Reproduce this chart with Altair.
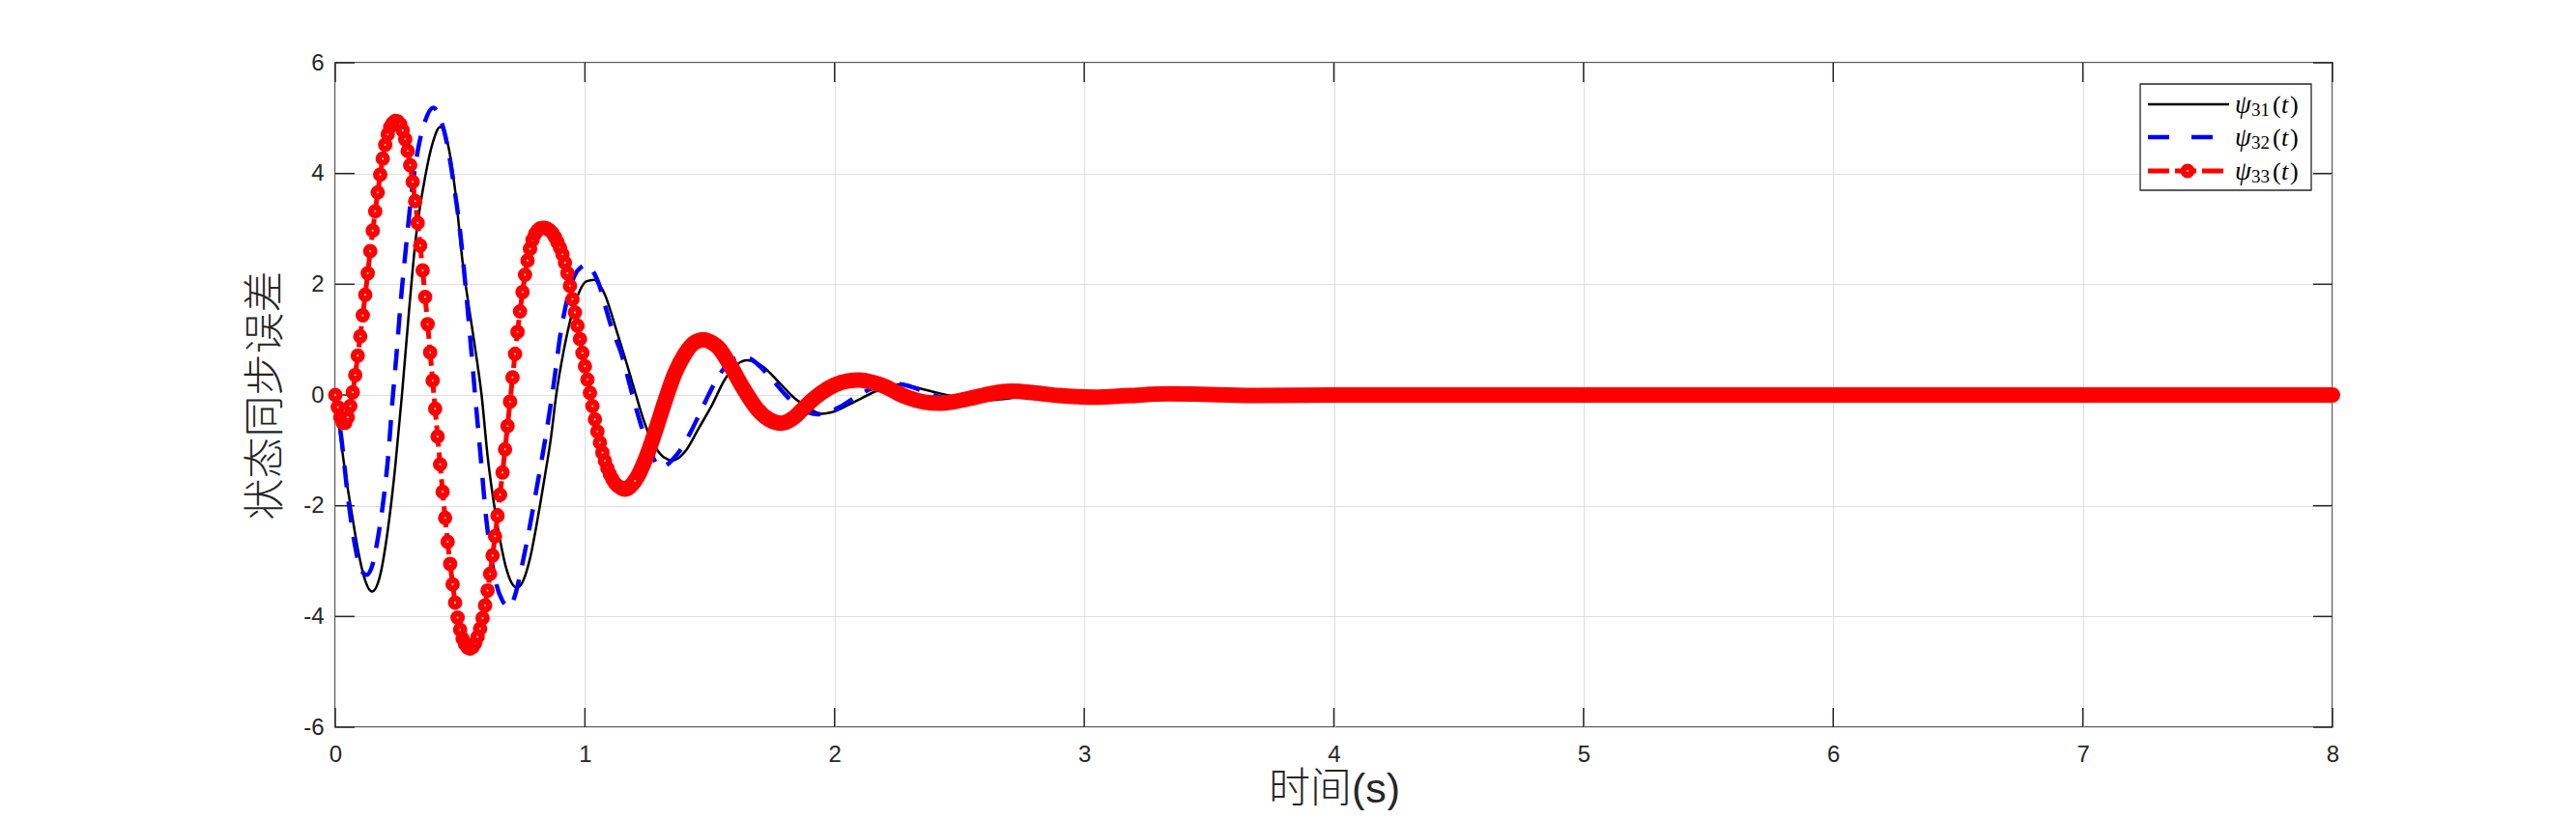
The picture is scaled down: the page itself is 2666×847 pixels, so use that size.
import altair as alt
import pandas as pd

# psi_33: solver samples every 0.01 s (markers)
red_v = [
    0.00, -0.22, -0.40, -0.50, -0.50, -0.40, -0.20, 0.05, 0.36, 0.71,
    1.06, 1.44, 1.81, 2.20, 2.60, 2.97, 3.32, 3.66, 3.98, 4.27,
    4.52, 4.71, 4.84, 4.91, 4.95, 4.94, 4.89, 4.78, 4.62, 4.41,
    4.15, 3.85, 3.50, 3.11, 2.70, 2.25, 1.77, 1.28, 0.77, 0.26,
    -0.25, -0.75, -1.25, -1.75, -2.22, -2.65, -3.05, -3.42, -3.75, -4.02,
    -4.24, -4.40, -4.50, -4.56, -4.58, -4.55, -4.48, -4.37, -4.22, -4.03,
    -3.80, -3.53, -3.23, -2.90, -2.55, -2.18, -1.80, -1.40, -0.98, -0.56,
    -0.12, 0.32, 0.74, 1.14, 1.51, 1.86, 2.17, 2.43, 2.64, 2.80,
    2.91, 2.97, 3.01, 3.02, 3.02, 3.00, 2.97, 2.92, 2.85, 2.76,
    2.66, 2.54, 2.39, 2.20, 1.97, 1.73, 1.49, 1.25, 1.01, 0.76,
    0.52, 0.28, 0.04, -0.20, -0.44, -0.66, -0.86, -1.04, -1.19, -1.32,
    -1.43, -1.52, -1.59, -1.64, -1.67, -1.69, -1.70, -1.69, -1.66, -1.61,
    -1.55,
]
red_t = [round(i * 0.01, 2) for i in range(len(red_v))]

# psi_33 after ~1.15 s: markers merge into one solid band
red_tail_t = [
    1.15, 1.162, 1.19, 1.21, 1.25, 1.29, 1.325, 1.36, 1.40, 1.44,
    1.476, 1.51, 1.534, 1.585, 1.637, 1.689, 1.74, 1.785, 1.83, 1.869,
    1.908, 1.947, 2.00, 2.05, 2.10, 2.15, 2.204, 2.25, 2.295, 2.36,
    2.42, 2.49, 2.553, 2.63, 2.71, 2.80, 2.90, 3.04, 3.18, 3.34,
    3.50, 3.70, 4.0, 5.0, 6.0, 7.0, 8.0,
]
red_tail_v = [
    -1.69, -1.70, -1.61, -1.48, -1.07, -0.54, -0.05, 0.39, 0.74, 0.95,
    1.00, 0.94, 0.86, 0.51, 0.10, -0.25, -0.45, -0.51, -0.43, -0.27,
    -0.10, 0.04, 0.18, 0.25, 0.27, 0.23, 0.15, 0.04, -0.05, -0.13,
    -0.15, -0.11, -0.05, 0.03, 0.07, 0.04, -0.01, -0.04, -0.01, 0.02,
    0.01, -0.01, 0.0, 0.0, 0.0, 0.0, 0.0,
]

black_t = [
    0.0, 0.018, 0.04, 0.063, 0.089, 0.115, 0.147, 0.18, 0.21, 0.24,
    0.267, 0.295, 0.321, 0.36, 0.39, 0.42, 0.45, 0.48, 0.51, 0.54,
    0.565, 0.586, 0.61, 0.635, 0.66, 0.686, 0.71, 0.728, 0.75, 0.78,
    0.81, 0.84, 0.863, 0.885, 0.915, 0.947, 0.979, 1.005, 1.037, 1.06,
    1.082, 1.12, 1.16, 1.198, 1.237, 1.276, 1.315, 1.351, 1.38, 1.405,
    1.456, 1.508, 1.559, 1.611, 1.65, 1.68, 1.714, 1.779, 1.843, 1.882,
    1.947, 1.99, 2.063, 2.166, 2.21, 2.256, 2.30, 2.385, 2.46, 2.53,
    2.60, 2.66, 2.72, 2.80, 2.90, 3.0, 3.2, 3.5, 4.0, 5.0,
    6.0, 7.0, 8.0,
]
black_v = [
    0.0, -0.66, -1.40, -2.05, -2.75, -3.28, -3.55, -3.25, -2.45, -1.30,
    0.00, 1.50, 2.77, 3.94, 4.55, 4.84, 4.55, 3.70, 2.40, 1.45,
    0.70, 0.00, -1.10, -1.95, -2.62, -3.15, -3.42, -3.48, -3.38, -2.95,
    -2.25, -1.45, -0.80, 0.00, 0.80, 1.45, 1.88, 2.05, 2.08, 1.98,
    1.79, 1.26, 0.68, 0.10, -0.48, -0.89, -1.12, -1.18, -1.12, -1.00,
    -0.60, -0.19, 0.27, 0.56, 0.63, 0.60, 0.51, 0.22, -0.07, -0.19,
    -0.34, -0.31, -0.16, 0.07, 0.15, 0.19, 0.16, 0.07, -0.01, -0.07,
    -0.10, -0.08, -0.05, -0.01, 0.02, 0.02, 0.01, 0.0, 0.0, 0.0,
    0.0, 0.0, 0.0,
]

blue_t = [
    0.0, 0.025, 0.05, 0.075, 0.10, 0.125, 0.15, 0.17, 0.19, 0.21,
    0.231, 0.245, 0.263, 0.283, 0.302, 0.33, 0.36, 0.392, 0.42, 0.447,
    0.473, 0.50, 0.52, 0.54, 0.56, 0.58, 0.605, 0.625, 0.645, 0.67,
    0.695, 0.72, 0.747, 0.773, 0.80, 0.825, 0.85, 0.875, 0.902, 0.93,
    0.96, 0.985, 1.005, 1.03, 1.06, 1.085, 1.108, 1.147, 1.17, 1.198,
    1.225, 1.25, 1.275, 1.30, 1.325, 1.35, 1.378, 1.42, 1.456, 1.495,
    1.534, 1.57, 1.60, 1.63, 1.66, 1.70, 1.75, 1.80, 1.85, 1.89,
    1.93, 1.97, 2.02, 2.08, 2.14, 2.19, 2.24, 2.29, 2.35, 2.41,
    2.48, 2.55, 2.63, 2.72, 2.85, 3.0, 3.3, 4.0, 5.0, 6.0,
    7.0, 8.0,
]
blue_v = [
    0.0, -0.80, -1.82, -2.62, -3.12, -3.25, -3.05, -2.60, -2.00, -1.20,
    0.00, 0.72, 1.73, 2.66, 3.50, 4.40, 4.95, 5.19, 5.00, 4.55,
    3.85, 2.95, 2.05, 1.05, 0.00, -1.00, -2.25, -2.95, -3.42, -3.72,
    -3.83, -3.62, -3.10, -2.52, -1.85, -1.22, -0.55, 0.20, 1.10, 1.75,
    2.17, 2.31, 2.35, 2.25, 1.95, 1.55, 1.20, 0.73, 0.35, -0.13,
    -0.55, -0.89, -1.15, -1.30, -1.27, -1.17, -1.02, -0.70, -0.37, 0.00,
    0.33, 0.55, 0.66, 0.69, 0.66, 0.52, 0.28, 0.02, -0.20, -0.31,
    -0.35, -0.32, -0.22, -0.05, 0.10, 0.18, 0.20, 0.17, 0.08, -0.02,
    -0.09, -0.10, -0.06, -0.01, 0.02, 0.01, 0.0, 0.0, 0.0, 0.0,
    0.0, 0.0,
]

x_ticks = [0, 1, 2, 3, 4, 5, 6, 7, 8]
y_ticks = [-6, -4, -2, 0, 2, 4, 6]
legend_subs = ["31", "32", "33"]

W, H = 2067, 688
INK = "#262626"
TICK = 20
MARK = dict(shape="circle", size=71, fill="white", fillOpacity=1, stroke="#ff0000",
            strokeWidth=6.5, opacity=1)

xs = alt.Scale(domain=[0, 8], nice=False, zero=False)
ys = alt.Scale(domain=[-6, 6], nice=False, zero=False)

black = pd.DataFrame({"t": black_t, "v": black_v})
blue = pd.DataFrame({"t": blue_t, "v": blue_v})
red = pd.DataFrame({"t": red_t, "v": red_v})
red_tail = pd.DataFrame({"t": red_tail_t, "v": red_tail_v})
xt = pd.DataFrame({"t": x_ticks})
yt = pd.DataFrame({"v": y_ticks})
one = pd.DataFrame({"k": [0]})

x_axis = alt.Axis(
    values=x_ticks, title="时间(s)", labelPadding=16, labelFlush=False,
    labelExpr="'' + datum.value",
    titleY=77, titleBaseline="alphabetic",
)
y_axis = alt.Axis(
    values=y_ticks, title="状态同步误差", labelPadding=12,
    labelExpr="'' + datum.value",
    titleX=-72, titleY=H / 2, titleAngle=-90,
    titleAlign="center", titleBaseline="middle",
)

X = alt.X("t:Q", scale=xs)
Y = alt.Y("v:Q", scale=ys)

black_line = alt.Chart(black).mark_line(color="#000000", strokeWidth=2.5, interpolate="monotone").encode(
    x=alt.X("t:Q", scale=xs, axis=x_axis),
    y=alt.Y("v:Q", scale=ys, axis=y_axis),
)
blue_line = alt.Chart(blue).mark_line(
    color="#0000ff", strokeWidth=4.5, strokeDash=[22, 15], interpolate="monotone"
).encode(x=X, y=Y)
red_band = alt.Chart(red_tail).mark_line(
    color="#ff0000", strokeWidth=16, strokeCap="round", strokeJoin="round", interpolate="monotone"
).encode(x=X, y=Y)
red_line = alt.Chart(red).mark_line(color="#ff0000", strokeWidth=5, strokeDash=[22, 6]).encode(x=X, y=Y)
red_pts = alt.Chart(red).mark_point(**MARK).encode(x=X, y=Y)

# inward ticks on all four sides (MATLAB box style)
tick_layers = [
    alt.Chart(xt).mark_rule(color=INK, strokeWidth=1.5).encode(
        x=X, y=alt.value(H), y2=alt.value(H - TICK)),
    alt.Chart(xt).mark_rule(color=INK, strokeWidth=1.5).encode(
        x=X, y=alt.value(0), y2=alt.value(TICK)),
    alt.Chart(yt).mark_rule(color=INK, strokeWidth=1.5).encode(
        y=Y, x=alt.value(0), x2=alt.value(TICK)),
    alt.Chart(yt).mark_rule(color=INK, strokeWidth=1.5).encode(
        y=Y, x=alt.value(W), x2=alt.value(W - TICK)),
]

# legend box
lx0, lx1, ly0, ly1 = 1868, 2045, 22, 132
row_y = [43, 77, 112]
legend = [
    alt.Chart(one).mark_rect(fill="white", stroke=INK, strokeWidth=1.3).encode(
        x=alt.value(lx0), x2=alt.value(lx1), y=alt.value(ly0), y2=alt.value(ly1)),
    alt.Chart(one).mark_rule(color="#000000", strokeWidth=2.5).encode(
        x=alt.value(1876), x2=alt.value(1960), y=alt.value(row_y[0])),
    alt.Chart(one).mark_rule(color="#0000ff", strokeWidth=4.5, strokeDash=[22, 23]).encode(
        x=alt.value(1876), x2=alt.value(1960), y=alt.value(row_y[1])),
    alt.Chart(one).mark_rule(color="#ff0000", strokeWidth=5, strokeDash=[22, 6]).encode(
        x=alt.value(1876), x2=alt.value(1960), y=alt.value(row_y[2])),
    alt.Chart(one).mark_point(**MARK).encode(x=alt.value(1917), y=alt.value(row_y[2])),
]


def leg_text(txt, x, y, size, italic=False):
    kw = dict(text=txt, align="left", baseline="alphabetic", font="Liberation Serif",
              fontSize=size, color="#000000")
    if italic:
        kw["fontStyle"] = "italic"
    return alt.Chart(one).mark_text(**kw).encode(x=alt.value(x), y=alt.value(y))


for sub, y in zip(legend_subs, row_y):
    legend += [
        leg_text("ψ", 1966, y + 9, 27, italic=True),
        leg_text(sub, 1983, y + 12, 19),
        leg_text("(", 2005, y + 9, 26),
        leg_text("t", 2014, y + 9, 26, italic=True),
        leg_text(")", 2023, y + 9, 26),
    ]

chart = (
    alt.layer(black_line, *tick_layers, blue_line, red_band, red_line, red_pts, *legend)
    .properties(
        width=W,
        height=H,
        autosize=alt.AutoSizeParams(type="none"),
        padding={"left": 339, "top": 57, "right": 240, "bottom": 86},
        background="white",
    )
    .configure_view(stroke=INK, strokeWidth=1.5)
    .configure_axis(
        domain=False,
        ticks=False,
        grid=True,
        gridColor="#dfdfdf",
        gridWidth=1,
        labelFont="Liberation Sans",
        labelFontSize=24,
        labelColor=INK,
        titleFont="Liberation Sans, Noto Sans CJK SC",
        titleFontSize=43,
        titleFontWeight=300,
        titleColor=INK,
    )
)

chart.save("out.html", embed_options={"renderer": "svg", "actions": False})
